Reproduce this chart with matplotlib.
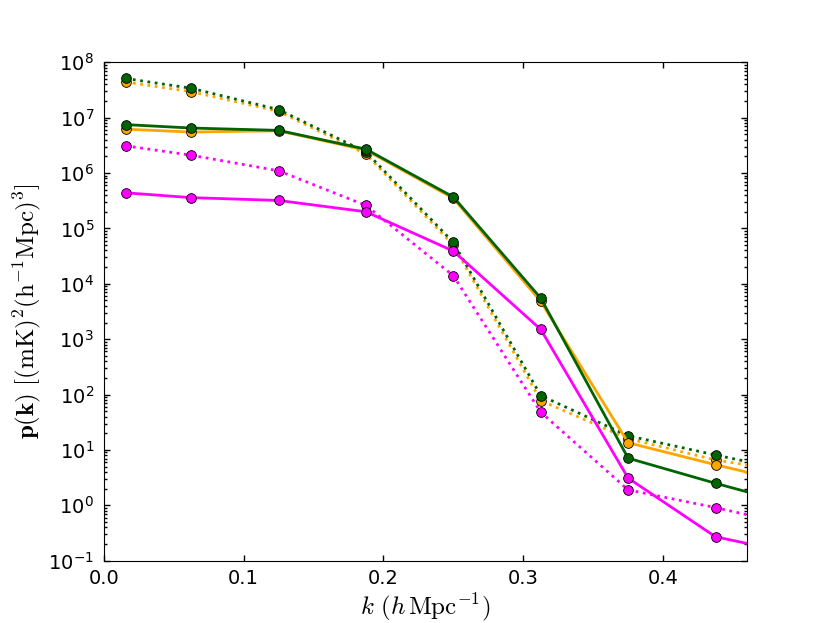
import matplotlib
matplotlib.use('Agg')
import matplotlib.pyplot as plt

plt.rcParams['mathtext.fontset'] = 'cm'
plt.rcParams['axes.unicode_minus'] = False
plt.rcParams['font.family'] = ['DejaVu Sans']

# k bins (last one lies outside the visible range)
k = [0.015625, 0.0625, 0.125, 0.1875, 0.25, 0.3125, 0.375, 0.4375, 0.5]

# solid lines
orange_solid = [6.2e6, 5.5e6, 5.8e6, 2.6e6, 3.5e5, 4.8e3, 13.5, 5.4, 2.3]
green_solid = [7.5e6, 6.5e6, 5.9e6, 2.7e6, 3.7e5, 5.5e3, 7.1, 2.5, 0.93]
magenta_solid = [4.4e5, 3.6e5, 3.2e5, 2.0e5, 3.9e4, 1.5e3, 3.1, 0.27, 0.126]

# dotted lines
orange_dot = [4.4e7, 2.95e7, 1.3e7, 2.2e6, 5.0e4, 78, 16, 6.6, 3.7]
green_dot = [5.1e7, 3.4e7, 1.4e7, 2.4e6, 5.6e4, 96, 18, 8.1, 3.8]
magenta_dot = [3.1e6, 2.1e6, 1.1e6, 2.6e5, 1.4e4, 48, 1.9, 0.91, 0.40]

fig = plt.figure(figsize=(8.3, 6.23), dpi=100)
ax = fig.add_subplot(111)
fig.subplots_adjust(left=0.125, right=0.9, bottom=0.1, top=0.9)

mk = dict(marker='o', markersize=7, markeredgecolor='k', markeredgewidth=0.6)

ax.plot(k, orange_dot, ':', color='orange', lw=2, **mk)
ax.plot(k, green_dot, ':', color='darkgreen', lw=2, **mk)
ax.plot(k, magenta_dot, ':', color='magenta', lw=2, **mk)
ax.plot(k, orange_solid, '-', color='orange', lw=2, **mk)
ax.plot(k, green_solid, '-', color='darkgreen', lw=2, **mk)
ax.plot(k, magenta_solid, '-', color='magenta', lw=2, **mk)

ax.set_yscale('log')
ax.set_xlim(0, 0.46)
ax.set_ylim(1e-1, 1e8)

ax.tick_params(which='both', direction='in', top=True, right=True, labelsize=14)
ax.tick_params(which='major', length=4.5, width=1)
ax.tick_params(which='minor', length=2.5, width=1)
ax.tick_params(axis='x', pad=6)
ax.tick_params(axis='y', pad=7)

ax.set_xlabel(r'$k\ (h\,\mathrm{Mpc}^{-1})$', fontsize=18, labelpad=2)
ax.set_ylabel(r'$\mathbf{p(k)}\ [(\mathrm{mK})^2(\mathrm{h}^{-1}\mathrm{Mpc})^3]$',
              fontsize=18, labelpad=4)

fig.savefig('out.png', dpi=100)
